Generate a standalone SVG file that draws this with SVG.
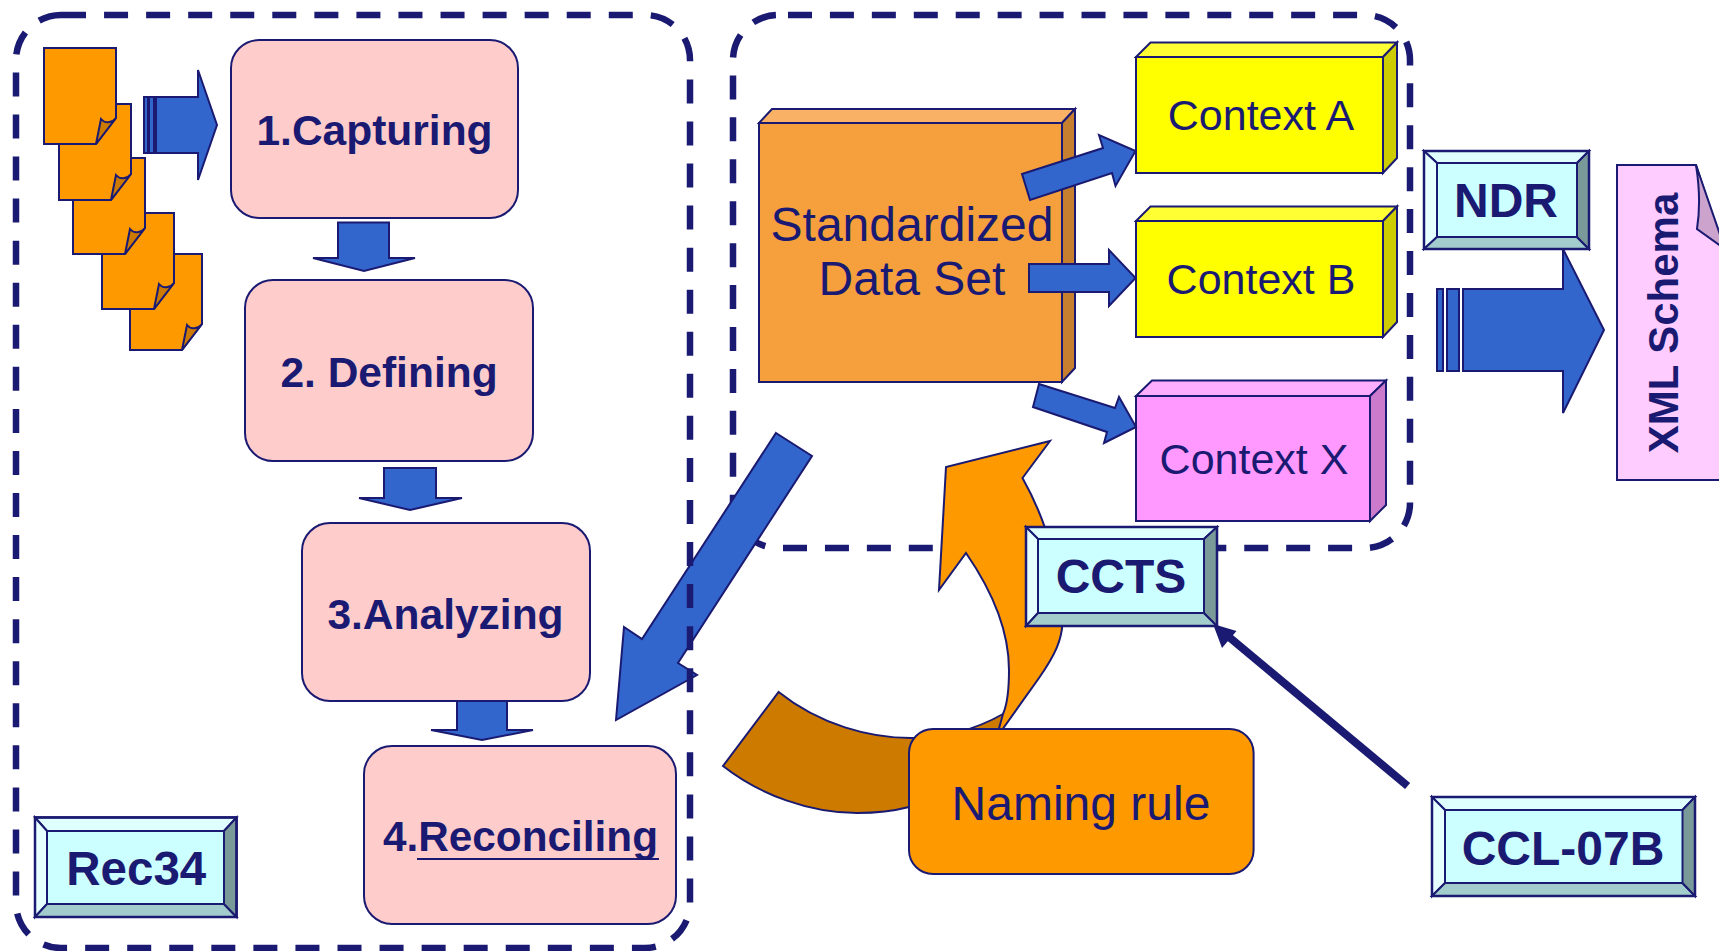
<svg xmlns="http://www.w3.org/2000/svg" xmlns:xlink="http://www.w3.org/1999/xlink" width="1719" height="951" viewBox="0 0 1719 951">
<style>
text{font-family:"Liberation Sans",Arial,sans-serif;fill:#1a1a72;text-anchor:middle}
.b{font-weight:700}
.s{stroke:#1a1a72;stroke-width:2;stroke-linejoin:miter}
.dash{fill:none;stroke:#1a1a72;stroke-width:6.5}
.step{fill:#ffcccc}
.arr{fill:#3366cc}
.or{fill:#ff9900}
.ord{fill:#cc7a00}
.bi{fill:#ccffff}.bt{fill:#dfffff}.bl{fill:#e6ffff}.bb{fill:#a3cccc}.br{fill:#7a9999}
.edge{fill:none;stroke:#1a1a72;stroke-width:2.500}
</style>
<defs>
<g id="page">
<path class="s or" d="M0 0H72V70L52 96H0Z"/>
<path class="s ord" d="M52 96L57 71C61 76 68 75 72 70Z"/>
</g>
</defs>
<g id="context-frame"><path class="dash" stroke-dasharray="24 17.930" stroke-dashoffset="31.930" d="M778 15H1365A45 45 0 0 1 1410 60V503A45 45 0 0 1 1365 548H778A45 45 0 0 1 733 503V60A45 45 0 0 1 778 15Z"/></g>
<g id="standardized-data-set">
<path class="s" fill="#f9b265" d="M759 123L772 109H1075L1062 123Z"/>
<path class="s" fill="#c67f2f" d="M1062 123L1075 109V368L1062 382Z"/>
<rect class="s" fill="#f5a03c" x="759" y="123" width="303" height="259"/>
<text x="912" y="241" font-size="48">Standardized</text>
<text x="912" y="295" font-size="48">Data Set</text>
</g>
<g id="context-a">
<path class="s" fill="#ffff33" d="M1136 57L1150.500 42.500H1397L1383 57Z"/>
<path class="s" fill="#cccc00" d="M1383 57L1397 42.500V158L1383 173Z"/>
<rect class="s" fill="#ffff00" x="1136" y="57" width="247" height="116"/>
<text x="1261" y="130" font-size="43">Context A</text>
</g>
<g id="context-b">
<path class="s" fill="#ffff33" d="M1136 221L1150.500 206.500H1397L1383 221Z"/>
<path class="s" fill="#cccc00" d="M1383 221L1397 206.500V322L1383 337Z"/>
<rect class="s" fill="#ffff00" x="1136" y="221" width="247" height="116"/>
<text x="1261" y="294" font-size="43">Context B</text>
</g>
<g id="context-x">
<path class="s" fill="#ffadff" d="M1136 396L1152 380.500H1386L1370 396Z"/>
<path class="s" fill="#cc7acc" d="M1370 396L1386 380.500V505L1370 521Z"/>
<rect class="s" fill="#ff99ff" x="1136" y="396" width="234" height="125"/>
<text x="1254" y="474" font-size="43">Context X</text>
</g>
<g id="documents">
<use xlink:href="#page" href="#page" x="130" y="254"/>
<use xlink:href="#page" href="#page" x="102" y="213"/>
<use xlink:href="#page" href="#page" x="73" y="158"/>
<use xlink:href="#page" href="#page" x="59" y="104"/>
<use xlink:href="#page" href="#page" x="44" y="48"/>
</g>
<g id="step-1"><rect class="s step" x="231" y="40" width="287" height="178" rx="28"/><text class="b" x="374.500" y="145" font-size="42.500">1.Capturing</text></g>
<g id="step-2"><rect class="s step" x="245" y="280" width="288" height="181" rx="28"/><text class="b" x="389" y="387" font-size="42.500">2. Defining</text></g>
<g id="step-3"><rect class="s step" x="302" y="523" width="288" height="178" rx="28"/><text class="b" x="445.500" y="629" font-size="42.500">3.Analyzing</text></g>
<g id="step-4"><rect class="s step" x="364" y="746" width="312" height="178" rx="28"/><text class="b" x="520.500" y="851" font-size="42.300">4.Reconciling</text><rect x="417" y="858" width="242" height="2" fill="#1a1a72"/></g>
<g id="connectors">
<g class="s arr">
<path d="M144 97H148V153H144Z"/><path d="M149 97H154V153H149Z"/>
<path d="M156 97H198V70L217 125L198 180V153H156Z"/>
<path d="M338 222.500H389V258H415L364 271L313 258H338Z"/>
<path d="M384 468H436V498H462L410 510L359 498H384Z"/>
<path d="M457 701H507V730H533L482 740L431 730H457Z"/>
<path d="M1437 289H1443V371H1437Z"/><path d="M1447 289H1459V371H1447Z"/>
<path d="M1463 289H1563V249L1604 330L1563 413V371H1463Z"/>
<path d="M1022 174L1103 148L1099 135L1135.500 151L1115.500 186L1112 173L1030 200Z"/>
<path d="M1029 264H1109V250L1135.500 278L1109 306V292H1029Z"/>
<path d="M1039 384L1115 408L1119 397L1136 427L1104 443L1107 432L1033 407Z"/>
<path d="M776 433L812 456L678 663L697 675L616 720L624 627L642 639Z"/>
</g>
<path class="s ord" d="M778.600 692C820 725 870 738 911 738C940 739 975 730 1003 714L1000 800L909 807C890 812 875 813 857 813C810 813 760 795 723 766Z"/>
<path class="s or" d="M1050 441L946 467L939 590L966 553C995 595 1009 635 1009 670C1009 690 1007 705 1003 714L998 732L1002 730L1039 678C1055 655 1062 640 1062.500 622C1062 580 1050 527 1022.500 478Z"/>
<path d="M1407.600 786L1229 637" fill="none" stroke="#1a1a72" stroke-width="8"/>
<path d="M1213 624L1236.500 631L1222 648Z" fill="#1a1a72"/>
</g>
<g id="rec34-frame"><path class="dash" stroke-dasharray="24 18.060" d="M62 15H645A45 45 0 0 1 690 60V903A45 45 0 0 1 645 948H61A45 45 0 0 1 16 903V60A45 45 0 0 1 61 15Z"/></g>
<g id="naming-rule"><rect class="s or" x="909" y="729" width="344.600" height="145" rx="24"/><text x="1081" y="820" font-size="48">Naming rule</text></g>
<g id="ccts">
<rect class="s bi" x="1026" y="527" width="191" height="99"/>
<path class="s bt" d="M1026 527H1217L1204 539H1038Z"/><path class="s bl" d="M1026 527L1038 539V613L1026 626Z"/><path class="s bb" d="M1026 626L1038 613H1204L1217 626Z"/><path class="s br" d="M1217 527L1204 539V613L1217 626Z"/>
<rect class="edge" x="1026" y="527" width="191" height="99"/>
<text class="b" x="1121" y="593" font-size="48">CCTS</text>
</g>
<g id="ndr">
<rect class="s bi" x="1424" y="151" width="165" height="98"/>
<path class="s bt" d="M1424 151H1589L1577 163H1437Z"/><path class="s bl" d="M1424 151L1437 163V237L1424 249Z"/><path class="s bb" d="M1424 249L1437 237H1577L1589 249Z"/><path class="s br" d="M1589 151L1577 163V237L1589 249Z"/>
<rect class="edge" x="1424" y="151" width="165" height="98"/>
<text class="b" x="1506" y="217" font-size="48">NDR</text>
</g>
<g id="rec34">
<rect class="s bi" x="35" y="817.500" width="201.500" height="99.500"/>
<path class="s bt" d="M35 817.500H236.500L224 831H47Z"/><path class="s bl" d="M35 817.500L47 831V904L35 917Z"/><path class="s bb" d="M35 917L47 904H224L236.500 917Z"/><path class="s br" d="M236.500 817.500L224 831V904L236.500 917Z"/>
<rect class="edge" x="35" y="817.500" width="201.500" height="99.500"/>
<text class="b" x="136.300" y="885" font-size="47.500">Rec34</text>
</g>
<g id="ccl-07b">
<rect class="s bi" x="1432" y="797" width="263" height="99"/>
<path class="s bt" d="M1432 797H1695L1682.500 810H1445Z"/><path class="s bl" d="M1432 797L1445 810V883L1432 896Z"/><path class="s bb" d="M1432 896L1445 883H1682.500L1695 896Z"/><path class="s br" d="M1695 797L1682.500 810V883L1695 896Z"/>
<rect class="edge" x="1432" y="797" width="263" height="99"/>
<text class="b" x="1563" y="865" font-size="48">CCL-07B</text>
</g>
<g id="xml-schema">
<path class="s" fill="#ffccff" d="M1617 165H1696L1725 255V480H1617Z"/>
<path class="s" fill="#cca3cc" d="M1696 165C1700 190 1700 210 1697 229L1725 249Z"/>
<text class="b" transform="translate(1678 323) rotate(-90)" font-size="42">XML Schema</text>
</g>
</svg>
